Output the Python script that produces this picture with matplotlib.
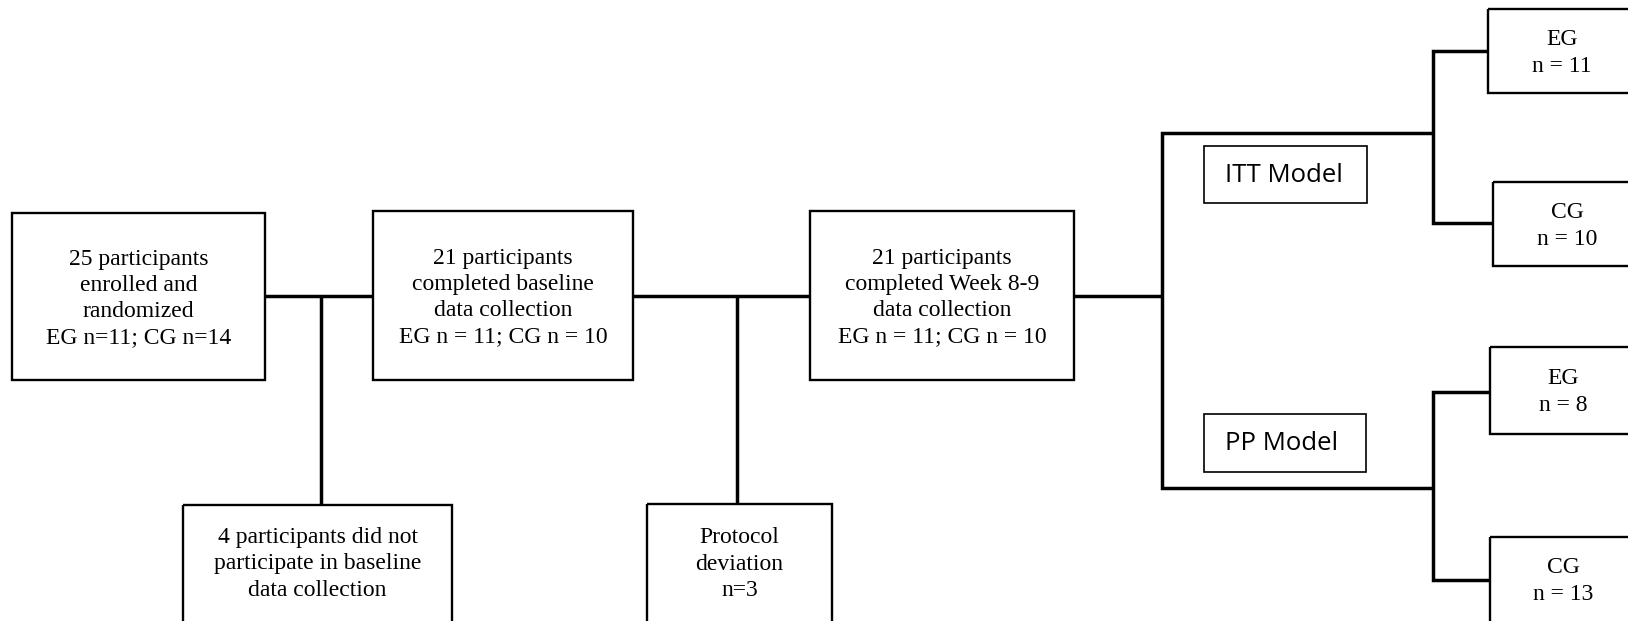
import matplotlib
matplotlib.use("Agg")
import matplotlib.pyplot as plt
from matplotlib.patches import Rectangle

# flow chart texts
stage_labels = [
    "25 participants\nenrolled and\nrandomized\nEG n=11; CG n=14",
    "21 participants\ncompleted baseline\ndata collection\nEG n = 11; CG n = 10",
    "21 participants\ncompleted Week 8-9\ndata collection\nEG n = 11; CG n = 10",
]
dropout_labels = [
    "4 participants did not\nparticipate in baseline\ndata collection",
    "Protocol\ndeviation\nn=3",
]
model_labels = ["ITT Model", "PP Model"]
group_labels = ["EG", "CG", "EG", "CG"]
group_n = [11, 10, 8, 13]

# layout in pixels (x0, y0, x1, y1), y downwards
stage_boxes = [(12, 213, 265, 380), (373, 211, 633, 380), (810, 211, 1074, 380)]
dropout_boxes = [(183, 505, 452, 640), (647, 504, 832, 640)]
model_boxes = [(1204, 146, 1367, 203), (1204, 414, 1366, 472)]
group_boxes = [(1488, 9, 1660, 93), (1493, 182, 1660, 266),
               (1490, 347, 1660, 434), (1490, 537, 1660, 640)]
group_text = [(1562, 53), (1567, 226), (1563, 392), (1563, 581)]

W, H = 1628, 621
fig = plt.figure(figsize=(W / 100, H / 100), dpi=100)
ax = fig.add_axes([0, 0, 1, 1])
ax.set_xlim(0, W)
ax.set_ylim(H, 0)
ax.axis("off")

serif = "Liberation Serif"
sans = "Open Sans"
thick = 2.5
fs = 17


def box(b, lw=1.7):
    x0, y0, x1, y1 = b
    ax.add_patch(Rectangle((x0, y0), x1 - x0, y1 - y0, fill=False,
                           edgecolor="black", linewidth=lw, clip_on=True))


def line(xs, ys):
    ax.plot(xs, ys, color="black", linewidth=thick, solid_capstyle="butt",
            solid_joinstyle="miter")


# main stages
for b, lab in zip(stage_boxes, stage_labels):
    box(b)
    ax.text((b[0] + b[2]) / 2, (b[1] + b[3]) / 2 + 2, lab, ha="center", va="center",
            fontsize=fs, family=serif, linespacing=1.32)

# dropouts
for b, lab in zip(dropout_boxes, dropout_labels):
    box(b)
    ax.text((b[0] + b[2]) / 2, 564, lab, ha="center", va="center",
            fontsize=fs, family=serif, linespacing=1.32)

# connectors between stages
line([265, 373], [296, 296])
line([321, 321], [296, 505])
line([633, 810], [296, 296])
line([737, 737], [296, 504])
line([1074, 1162], [296, 296])

# analysis bracket
line([1433, 1162, 1162, 1433], [133, 133, 488, 488])
line([1488, 1433, 1433, 1493], [51, 51, 223, 223])
line([1490, 1433, 1433, 1490], [392, 392, 580, 580])

for b, lab in zip(model_boxes, model_labels):
    box(b, lw=1.2)
    ax.text(b[0] + 21, (b[1] + b[3]) / 2 + 1, lab, ha="left", va="center",
            fontsize=18.5, family=sans)

for b, g, n, (tx, ty) in zip(group_boxes, group_labels, group_n, group_text):
    box(b)
    ax.text(tx, ty, f"{g}\nn = {n}", ha="center", va="center",
            fontsize=fs, family=serif, linespacing=1.42)

fig.savefig("out.png", dpi=100, facecolor="white")
